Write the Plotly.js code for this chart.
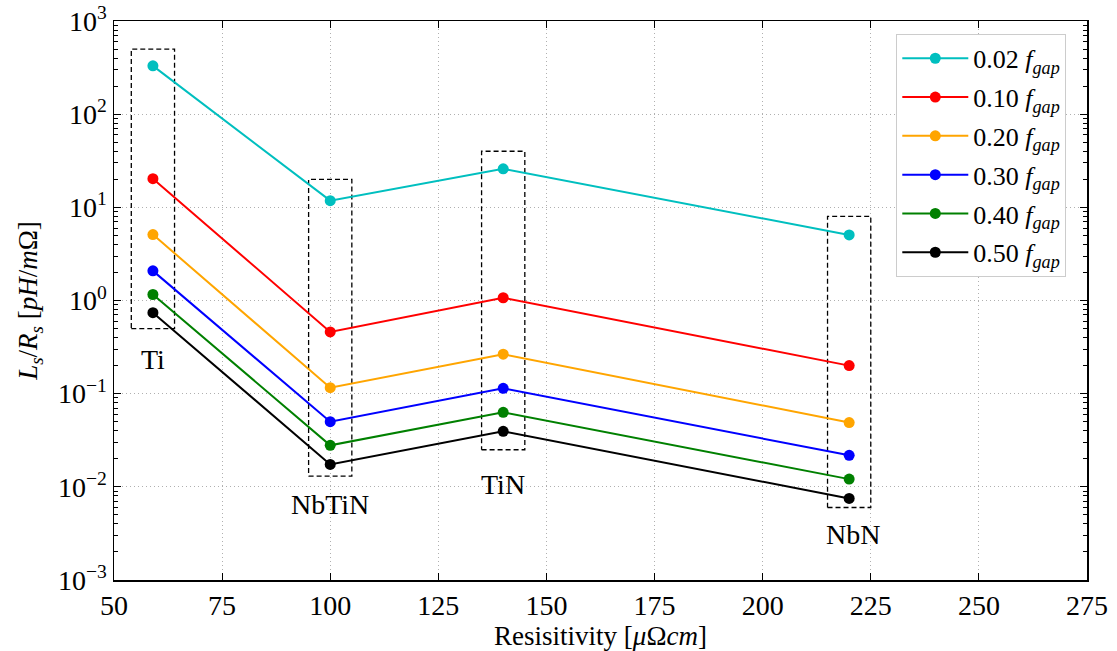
<!DOCTYPE html>
<html>
<head>
<meta charset="utf-8">
<script src="https://cdn.plot.ly/plotly-3.0.1.min.js"></script>
<style>html,body{margin:0;padding:0;background:#fff;}#chart{width:1117px;height:651px;}</style>
</head>
<body>
<div id="chart"></div>
<script>
// Resistivity (µΩ cm) of each material
const materials = ["Ti", "NbTiN", "TiN", "NbN"];
const resistivity = [59, 100, 140, 220];

// Ls/Rs [pH/mΩ] per frequency fraction
const seriesNames = ["0.02", "0.10", "0.20", "0.30", "0.40", "0.50"];
const s002 = [330, 11.8, 25.9, 5.05];
const s010 = [20.3, 0.46, 1.07, 0.20];
const s020 = [5.1, 0.116, 0.265, 0.049];
const s030 = [2.08, 0.050, 0.114, 0.0218];
const s040 = [1.16, 0.0279, 0.063, 0.0121];
const s050 = [0.74, 0.0174, 0.0394, 0.0075];
const seriesValues = [s002, s010, s020, s030, s040, s050];
const seriesColors = ["#00bfbf", "#ff0000", "#ffa500", "#0000ff", "#008000", "#000000"];

// Dashed boxes around each material group [x0, x1, y0, y1]
const boxX0 = [54, 95, 135, 215];
const boxX1 = [64, 105, 145, 225];
const boxY0 = [0.5, 0.013, 0.025, 0.006];
const boxY1 = [500, 20, 40, 8];

// Material label positions
const labelX = [59, 100, 140, 221];
const labelY = [0.23, 0.0065, 0.0107, 0.0031];

// Axis ticks
const xTicks = [50, 75, 100, 125, 150, 175, 200, 225, 250, 275];
const yTickVals = [0.001, 0.01, 0.1, 1, 10, 100, 1000];
const yTickText = ["10<sup>\u22123</sup>", "10<sup>\u22122</sup>", "10<sup>\u22121</sup>", "10<sup>0</sup>", "10<sup>1</sup>", "10<sup>2</sup>", "10<sup>3</sup>"];
const yMinorMult = [2, 3, 4, 5, 6, 7, 8, 9];
const yMinorVals = [];
yTickVals.slice(0, -1).forEach(d => yMinorMult.forEach(m => yMinorVals.push(d * m)));

const FONT = "Liberation Serif";
const traces = [];

// boxes
for (let i = 0; i < materials.length; i++) {
  traces.push({
    x: [boxX0[i], boxX1[i], boxX1[i], boxX0[i], boxX0[i]],
    y: [boxY0[i], boxY0[i], boxY1[i], boxY1[i], boxY0[i]],
    mode: "lines",
    line: {color: "#000", width: 1.3, dash: "5px,3px"},
    showlegend: false,
    hoverinfo: "skip"
  });
}

for (let i = 0; i < seriesNames.length; i++) {
  traces.push({
    x: resistivity,
    y: seriesValues[i],
    mode: "lines+markers",
    name: seriesNames[i] + " <i>f<sub>gap</sub></i>",
    legendgroup: "g" + i,
    line: {color: seriesColors[i], width: 2},
    marker: {color: seriesColors[i], size: 11}
  });
}

const annotations = materials.map((m, i) => ({
  x: labelX[i],
  y: Math.log10(labelY[i]),
  xref: "x", yref: "y",
  text: m,
  showarrow: false,
  font: {family: FONT, size: 28, color: "#000"}
}));

const layout = {
  width: 1117, height: 651,
  margin: {l: 114, r: 30, t: 21, b: 71},
  paper_bgcolor: "#fff",
  plot_bgcolor: "#fff",
  font: {family: FONT, color: "#000"},
  showlegend: true,
  legend: {
    x: 0.804, y: 0.977, xanchor: "left", yanchor: "top",
    bgcolor: "#fff", bordercolor: "#cccccc", borderwidth: 1,
    font: {family: FONT, size: 26, color: "#000"},
    itemwidth: 66,
    tracegroupgap: 2
  },
  xaxis: {
    range: [50, 275],
    tickvals: xTicks,
    ticks: "inside", ticklen: 7, tickwidth: 1, tickcolor: "#000",
    showline: true, linecolor: "#000", linewidth: 1.5, mirror: "ticks",
    showgrid: true, gridcolor: "#b0b0b0", griddash: "1px,3px", gridwidth: 1,
    zeroline: false,
    tickfont: {family: FONT, size: 28, color: "#000"},
    title: {text: "Resisitivity [<i>\u03bc</i>\u03a9<i>cm</i>]", font: {family: FONT, size: 27, color: "#000"}, standoff: 1}
  },
  yaxis: {
    type: "log",
    range: [-3, 3],
    tickvals: yTickVals,
    ticktext: yTickText,
    ticks: "inside", ticklen: 7, tickwidth: 1, tickcolor: "#000",
    minor: {tickmode: "array", tickvals: yMinorVals, ticks: "inside", ticklen: 4, tickcolor: "#000", showgrid: false},
    showline: true, linecolor: "#000", linewidth: 1.5, mirror: "ticks",
    showgrid: true, gridcolor: "#b0b0b0", griddash: "1px,3px", gridwidth: 1,
    zeroline: false,
    tickfont: {family: FONT, size: 28, color: "#000"},
    title: {text: "<i>L<sub>s</sub></i>/<i>R<sub>s</sub></i> [<i>pH</i>/<i>m</i>\u03a9]", font: {family: FONT, size: 27, color: "#000"}, standoff: 12}
  },
  annotations: annotations
};

Plotly.newPlot("chart", traces, layout, {displayModeBar: false, staticPlot: true});
</script>
</body>
</html>
